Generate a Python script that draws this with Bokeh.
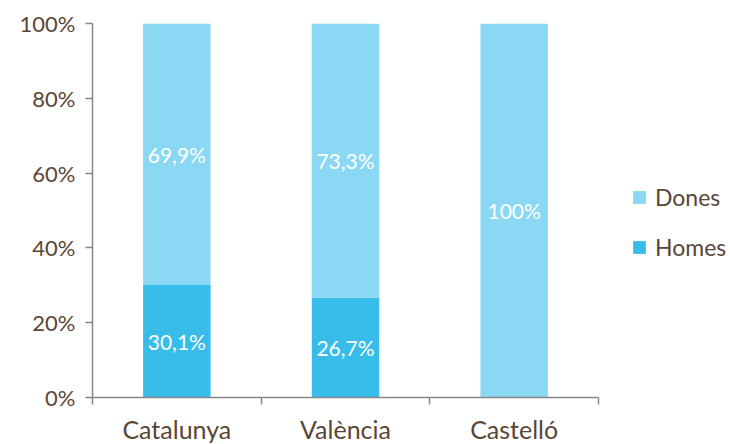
from bokeh.plotting import figure
from bokeh.models import ColumnDataSource, Range1d, FixedTicker, PrintfTickFormatter, Legend, LegendItem
from bokeh.core.properties import value
from bokeh.embed import file_html
from bokeh.resources import INLINE

categories = ["Catalunya", "València", "Castelló"]
homes = [30.1, 26.7, 0.0]
dones = [69.9, 73.3, 100.0]
y_ticks = [0, 20, 40, 60, 80, 100]

FONT = "Lato"
TXT = "#5A4636"
AXIS = "#878787"
C_HOMES = "#38BDEA"
C_DONES = "#8AD8F3"

n = len(categories)
xs = [i + 0.5 for i in range(n)]

def fmt(v):
    s = f"{v:.1f}".replace(".", ",")
    if s.endswith(",0"):
        s = s[:-2]
    return s + "%"

src = ColumnDataSource(dict(x=xs, homes=homes, dones=dones))

AXIS_PX = 506      # pixel length of the drawn x axis
FRAME_W = 638      # frame extends to the right edge so the legend fits inside it
p = figure(frame_width=FRAME_W, frame_height=374, output_backend="svg", toolbar_location=None,
           x_range=Range1d(0, n * FRAME_W / AXIS_PX), y_range=Range1d(0, 100),
           min_border_left=92, min_border_top=23, min_border_bottom=0, min_border_right=0)
p.outline_line_color = None
p.xgrid.visible = False
p.ygrid.visible = False
p.background_fill_color = "white"
p.border_fill_color = "white"

r = p.vbar_stack(["homes", "dones"], x="x", width=0.4, source=src,
                 color=[C_HOMES, C_DONES], line_color=None)

# labels
lx, ly, lt = [], [], []
for i, x in enumerate(xs):
    if homes[i] > 0:
        lx.append(x); ly.append(homes[i] / 2); lt.append(fmt(homes[i]))
    if dones[i] > 0:
        lx.append(x); ly.append(homes[i] + dones[i] / 2); lt.append(fmt(dones[i]))
lsrc = ColumnDataSource(dict(x=lx, y=ly, t=lt))
p.text(x="x", y="y", text="t", source=lsrc, text_color="white", text_align="center",
       text_baseline="middle", text_font=value(FONT), text_font_size="21px")

# y axis
ya = p.yaxis[0]
ya.ticker = FixedTicker(ticks=y_ticks)
ya.formatter = PrintfTickFormatter(format="%d%%")
ya.axis_line_color = AXIS
ya.axis_line_width = 1.5
ya.major_tick_line_color = AXIS
ya.major_tick_line_width = 1.5
ya.major_tick_out = 7
ya.major_tick_in = 0
ya.minor_tick_line_color = None
ya.major_label_text_font = FONT
ya.major_label_text_font_size = "22px"
ya.major_label_text_color = TXT
ya.major_label_standoff = 10

# x axis
xa = p.xaxis[0]
xa.bounds = (0, n)
xa.ticker = FixedTicker(ticks=xs, minor_ticks=list(range(n + 1)))
xa.major_label_overrides = {x: c for x, c in zip(xs, categories)}
xa.axis_line_color = AXIS
xa.axis_line_width = 1.5
xa.major_tick_line_color = None
xa.major_tick_out = 0
xa.major_tick_in = 0
xa.minor_tick_line_color = AXIS
xa.minor_tick_line_width = 1.5
xa.minor_tick_out = 7
xa.minor_tick_in = 0
xa.major_label_text_font = FONT
xa.major_label_text_font_size = "25px"
xa.major_label_text_color = TXT
xa.major_label_standoff = 9

legend = Legend(items=[LegendItem(label="Dones", renderers=[r[1]]),
                       LegendItem(label="Homes", renderers=[r[0]])],
                location=(539, 136), border_line_color=None, background_fill_alpha=0,
                label_text_font=FONT, label_text_font_size="23px", label_text_color=TXT,
                glyph_width=16, glyph_height=16, label_height=20, spacing=22,
                margin=0, padding=0, label_standoff=8)
p.add_layout(legend, "center")

open("out.html", "w").write(file_html(p, INLINE))
